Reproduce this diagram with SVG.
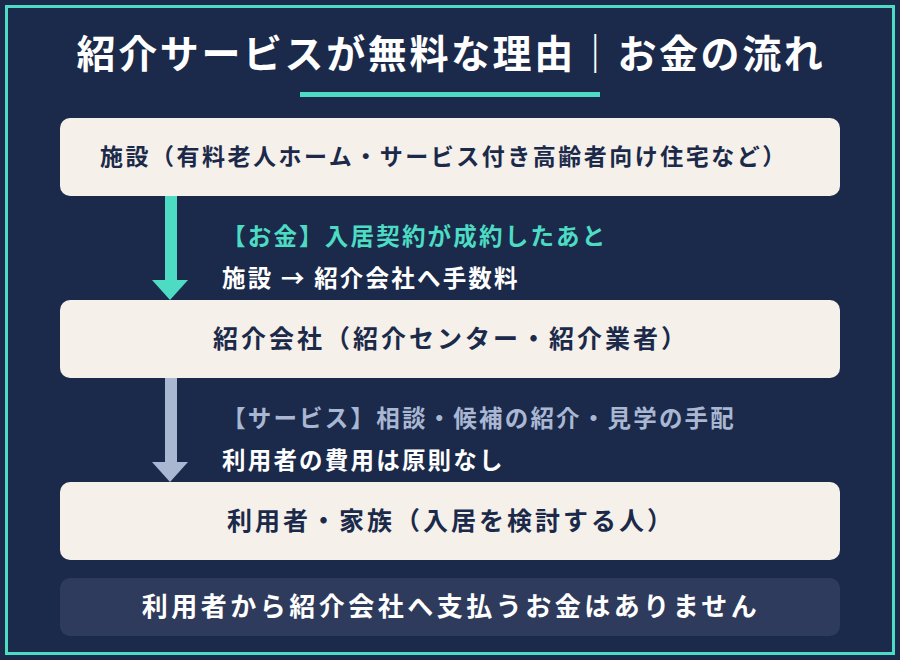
<svg xmlns="http://www.w3.org/2000/svg" width="900" height="660" viewBox="0 0 900 660">
<style>
text{font-family:"Noto Sans CJK JP","Noto Sans CJK SC",sans-serif;font-weight:700}
.box{fill:#f5f0e9}
.bt{fill:#1b2a4a;font-size:23px;letter-spacing:2.5px}
.bc{fill:#1b2a4a;font-size:25px;letter-spacing:3px}
.t{font-size:23.5px;letter-spacing:2.2px}
</style>
<rect width="900" height="660" fill="#1b2a4a"/>
<rect x="6.5" y="6.5" width="887" height="647" fill="none" stroke="#4ddbc4" stroke-width="3"/>
<text x="451" y="68" text-anchor="middle" fill="#fff" font-size="39" letter-spacing="2.6">紹介サービスが無料な理由｜お金の流れ</text>
<rect x="300" y="92" width="300" height="5" fill="#4ddbc4"/>
<g id="connectors">
<rect x="165" y="196" width="12" height="86" fill="#4ddbc4"/>
<polygon points="152,280 188,280 170,300" fill="#4ddbc4"/>
<rect x="165" y="378" width="12" height="86" fill="#a9b7d3"/>
<polygon points="152,462 188,462 170,482" fill="#a9b7d3"/>
<text x="222" y="245" class="t" fill="#4ddbc4">【お金】入居契約が成約したあと</text>
<text x="222" y="287" class="t" fill="#fff">施設 → 紹介会社へ手数料</text>
<text x="222" y="427" class="t" fill="#a9b7d3">【サービス】相談・候補の紹介・見学の手配</text>
<text x="222" y="469" class="t" fill="#fff">利用者の費用は原則なし</text>
</g>
<g id="n1"><rect class="box" x="60" y="118" width="780" height="78" rx="10"/><text class="bt" x="100" y="165">施設（有料老人ホーム・サービス付き高齢者向け住宅など）</text></g>
<g id="n2"><rect class="box" x="60" y="300" width="780" height="78" rx="10"/><text class="bc" x="451" y="348" text-anchor="middle">紹介会社（紹介センター・紹介業者）</text></g>
<g id="n3"><rect class="box" x="60" y="482" width="780" height="78" rx="10"/><text class="bc" x="451" y="530" text-anchor="middle">利用者・家族（入居を検討する人）</text></g>
<g id="n4"><rect x="60" y="578" width="780" height="58" rx="10" fill="#2e3b5c"/><text x="451" y="616" text-anchor="middle" fill="#fff" font-size="26" letter-spacing="3.5">利用者から紹介会社へ支払うお金はありません</text></g>
</svg>
